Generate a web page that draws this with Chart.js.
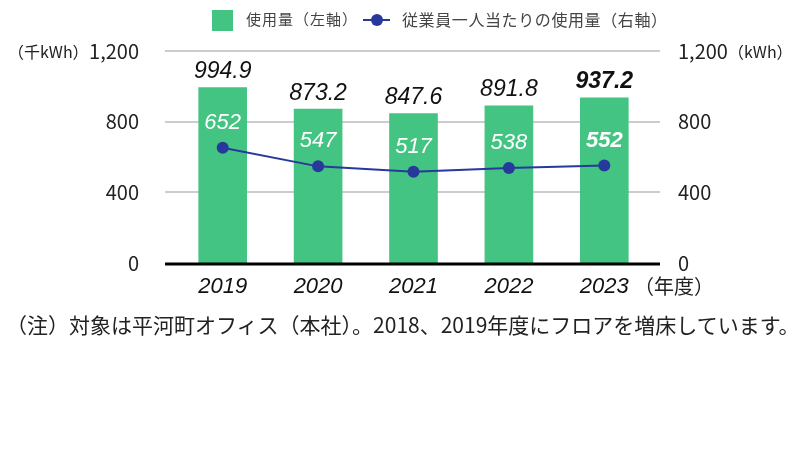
<!DOCTYPE html>
<html lang="ja">
<head>
<meta charset="utf-8">
<script src="https://cdn.jsdelivr.net/npm/chart.js@4/dist/chart.umd.min.js"></script>
<style>
  html, body { margin: 0; padding: 0; background: #fff; }
  #wrap { position: relative; width: 800px; height: 450px; font-family: "Noto Sans CJK JP", "Noto Sans", sans-serif; color: #222; }
  canvas { position: absolute; left: 0; top: 0; }
  .txt { position: absolute; white-space: nowrap; line-height: 1; }
  .sw { position: absolute; }
</style>
</head>
<body>
<div id="wrap">
  <canvas id="energyChart" width="800" height="450"></canvas>
  <div class="sw" style="left:212px;top:10px;width:21px;height:21px;background:#43c483;"></div>
  <div class="txt" style="left:246px;top:11px;font-size:15px;letter-spacing:1px;color:#444;">使用量（左軸）</div>
  <div class="sw" style="left:363px;top:19px;width:27px;height:2px;background:#27399a;"></div>
  <div class="sw" style="left:371px;top:14px;width:12px;height:12px;border-radius:50%;background:#27399a;"></div>
  <div class="txt" style="left:402px;top:11px;font-size:16px;letter-spacing:0.6px;color:#444;">従業員一人当たりの使用量（右軸）</div>
  <div class="txt" style="left:8px;top:43px;font-size:16px;">（千kWh）</div>
  <div class="txt" style="left:728px;top:43px;font-size:16px;">（kWh）</div>
  <div class="txt" style="left:634px;top:276px;font-size:20px;">（年度）</div>
  <div class="txt" style="left:6px;top:314px;font-size:21px;">（注）対象は平河町オフィス（本社）。2018、2019年度にフロアを増床しています。</div>
</div>
<script>
const years = ['2019', '2020', '2021', '2022', '2023'];
const usage = [994.9, 873.2, 847.6, 891.8, 937.2];
const perPerson = [652, 547, 517, 538, 552];
const yTicks = [0, 400, 800, 1200];

const green = '#43c483';
const navy = '#27399a';

// horizontal grid lines run a bit wider than the bar area
const gridPlugin = {
    id: 'grid',
    beforeDatasetsDraw(chart) {
        const ctx = chart.ctx;
        const y = chart.scales.y;
        ctx.save();
        ctx.strokeStyle = '#cccccc';
        ctx.lineWidth = 2;
        yTicks.forEach(v => {
            if (v === 0) return;
            const py = Math.round(y.getPixelForValue(v));
            ctx.beginPath();
            ctx.moveTo(165, py);
            ctx.lineTo(660, py);
            ctx.stroke();
        });
        ctx.restore();
    },
    afterDatasetsDraw(chart) {
        const ctx = chart.ctx;
        const py = chart.scales.y.getPixelForValue(0);
        ctx.save();
        ctx.strokeStyle = '#000';
        ctx.lineWidth = 3;
        ctx.beginPath();
        ctx.moveTo(165, py + 1);
        ctx.lineTo(660, py + 1);
        ctx.stroke();
        ctx.restore();
    }
};

const labelPlugin = {
    id: 'valueLabels',
    afterDatasetsDraw(chart) {
        const ctx = chart.ctx;
        const bars = chart.getDatasetMeta(0).data;
        const pts = chart.getDatasetMeta(1).data;
        ctx.save();
        ctx.textAlign = 'center';
        ctx.textBaseline = 'bottom';
        bars.forEach((b, i) => {
            const last = i === bars.length - 1;
            ctx.font = 'italic ' + (last ? 'bold ' : '') + '23px "Liberation Sans", Arial, sans-serif';
            ctx.fillStyle = '#111';
            ctx.fillText(usage[i].toFixed(1), b.x, b.y - 4);
        });
        pts.forEach((p, i) => {
            const last = i === pts.length - 1;
            ctx.font = 'italic ' + (last ? 'bold ' : '') + '22px "Liberation Sans", Arial, sans-serif';
            ctx.fillStyle = '#fff';
            ctx.fillText(String(perPerson[i]), p.x, p.y - 14);
        });
        ctx.restore();
    }
};

const ctx = document.getElementById('energyChart').getContext('2d');
const energyChart = new Chart(ctx, {
    type: 'bar',
    data: {
        labels: years,
        datasets: [{
            label: '使用量（左軸）',
            data: usage,
            backgroundColor: green,
            borderWidth: 0,
            yAxisID: 'y',
            barPercentage: 0.51,
            categoryPercentage: 1,
            order: 2
        }, {
            type: 'line',
            label: '従業員一人当たりの使用量（右軸）',
            data: perPerson,
            borderColor: navy,
            backgroundColor: navy,
            borderWidth: 2,
            pointRadius: 6,
            pointBackgroundColor: navy,
            pointBorderWidth: 0,
            tension: 0,
            yAxisID: 'y1',
            order: 1
        }]
    },
    options: {
        responsive: false,
        animation: false,
        devicePixelRatio: 1,
        layout: { padding: { top: 51, bottom: 0, left: 0, right: 0 } },
        plugins: {
            legend: { display: false },
            tooltip: { enabled: false }
        },
        scales: {
            x: {
                offset: true,
                grid: { display: false, drawTicks: false },
                border: { display: false },
                ticks: {
                    color: '#111',
                    padding: 11,
                    font: { family: '"Liberation Sans", Arial, sans-serif', size: 22, style: 'italic', weight: '500' }
                },
                afterFit: s => { s.height = 187; }
            },
            y: {
                position: 'left',
                min: 0,
                max: 1200,
                afterBuildTicks: s => { s.ticks = yTicks.map(v => ({ value: v })); },
                grid: { display: false, drawTicks: false },
                border: { display: false },
                ticks: {
                    color: '#222',
                    padding: 36,
                    font: { family: '"Noto Sans CJK JP", sans-serif', size: 20 },
                    callback: v => v.toLocaleString('en-US')
                },
                afterFit: s => { s.width = 175; }
            },
            y1: {
                position: 'right',
                min: 0,
                max: 1200,
                afterBuildTicks: s => { s.ticks = yTicks.map(v => ({ value: v })); },
                grid: { display: false, drawTicks: false },
                border: { display: false },
                ticks: {
                    color: '#222',
                    padding: 26,
                    font: { family: '"Noto Sans CJK JP", sans-serif', size: 20 },
                    callback: v => v.toLocaleString('en-US')
                },
                afterFit: s => { s.width = 148; }
            }
        }
    },
    plugins: [gridPlugin, labelPlugin]
});
</script>
</body>
</html>
